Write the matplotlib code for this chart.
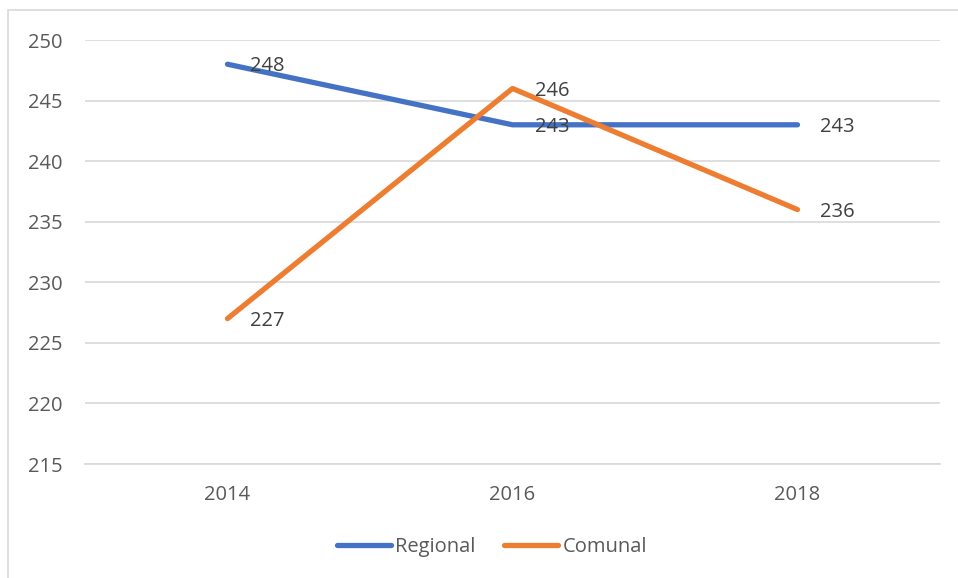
import matplotlib.pyplot as plt
from matplotlib.patches import Rectangle

years = ["2014", "2016", "2018"]
regional = [248, 243, 243]
comunal = [227, 246, 236]
series_names = ["Regional", "Comunal"]
color_list = ["#4472C4", "#ED7D31"]

plt.rcParams["font.family"] = ["Open Sans", "DejaVu Sans"]
_fontsize = 14.5

fig = plt.figure(figsize=(9.58, 5.78), dpi=100)
# outer chart frame (cut off on the right and bottom like the source)
fig.patches.append(Rectangle((8 / 958, -0.05), 1.1, 1 - 10 / 578 + 0.05,
                             transform=fig.transFigure, fill=False,
                             edgecolor="#D9D9D9", linewidth=1.2))

ax = fig.add_axes([85 / 958, 1 - 464 / 578, 855 / 958, 424 / 578])
x = list(range(len(years)))

for i, data in enumerate([regional, comunal]):
    ax.plot(x, data, color=color_list[i], linewidth=3.8,
            solid_capstyle="round", label=series_names[i], zorder=3)
    for xi, v in zip(x, data):
        ax.annotate(str(v), (xi, v), xytext=(16, -1.5), textcoords="offset points",
                    va="center", ha="left", fontsize=_fontsize, color="#404040", zorder=4)

ax.set_xlim(-0.5, 2.5)
ax.set_ylim(215, 250)
ax.set_yticks(range(215, 251, 5))
ax.set_xticks(x)
ax.set_xticklabels(years)
ax.grid(axis="y", color="#D9D9D9", linewidth=1.2)
ax.set_axisbelow(True)
for s in ["top", "right", "left"]:
    ax.spines[s].set_visible(False)
ax.spines["bottom"].set_color("#D9D9D9")
ax.spines["bottom"].set_linewidth(1.2)
ax.tick_params(axis="both", length=0, labelsize=_fontsize, labelcolor="#595959")
ax.tick_params(axis="y", pad=16)
ax.tick_params(axis="x", pad=15)

leg = ax.legend(loc="center", bbox_to_anchor=(492 / 958, 1 - 547 / 578),
                bbox_transform=fig.transFigure, ncol=2, frameon=False,
                fontsize=_fontsize, handlelength=2.7, handletextpad=0.2,
                columnspacing=1.4)
for t in leg.get_texts():
    t.set_color("#595959")

fig.savefig("out.png", dpi=100)
